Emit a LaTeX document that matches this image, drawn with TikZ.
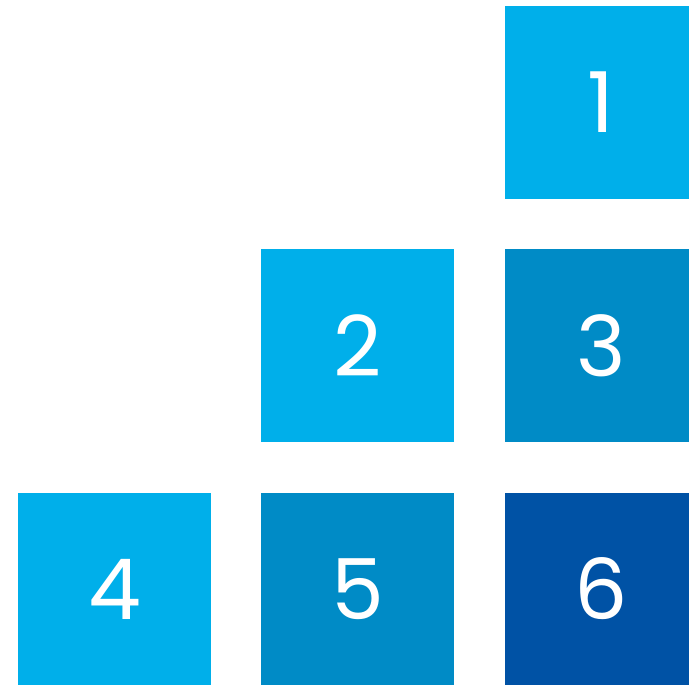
\documentclass[tikz,border=0pt]{standalone}
\usepackage{fontspec}
\setmainfont{Poppins}
\usepackage{tikz}
\usetikzlibrary{positioning}
\definecolor{skyblue}{RGB}{0,175,234}
\definecolor{midblue}{RGB}{0,139,198}
\definecolor{deepblue}{RGB}{0,82,165}

\begin{document}
\begin{tikzpicture}[
    x=1pt, y=-1pt,
    node distance=50pt,
    tile/.style={minimum width=193pt, minimum height=193pt, inner sep=0pt,
        text=white, font=\fontsize{84}{84}\selectfont},
    light/.style={tile, fill=skyblue},
    mid/.style={tile, fill=midblue},
    dark/.style={tile, fill=deepblue}
]
    \useasboundingbox (0,0) rectangle (689,685);
    \clip (0,0) rectangle (689,685);

    % bottom row
    \node[light] (t4) at (114.5,589) {4};
    \node[mid, right=of t4] (t5) {5};
    \node[dark, right=of t5] (t6) {6};

    % middle row
    \node[light, above=of t5] (t2) {2};
    \node[mid, above=of t6] (t3) {3};

    % top row
    \node[light, above=of t3] (t1) {1};
\end{tikzpicture}
\end{document}
